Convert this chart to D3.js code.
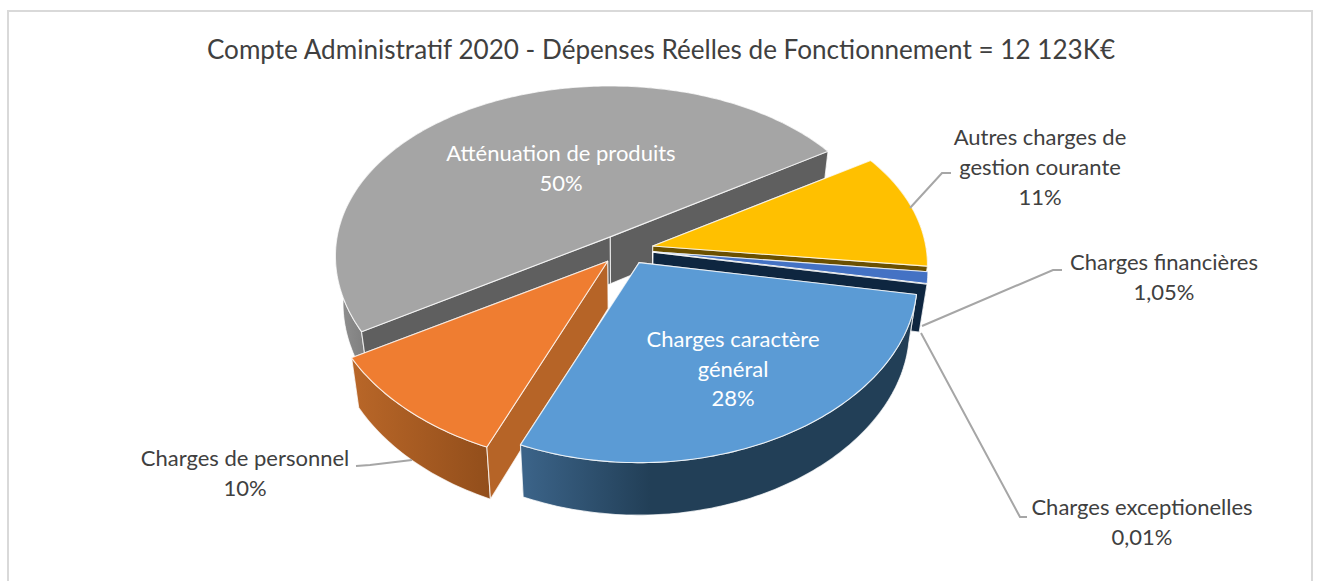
<!DOCTYPE html>
<html><head><meta charset="utf-8">
<script src="https://cdn.jsdelivr.net/npm/d3@7"></script>
<style>html,body{margin:0;background:#fff}svg{display:block}text{font-family:Lato,"Open Sans",sans-serif}</style>
</head><body><div id="c"></div>
<script>
const categories=["Charges caractère général","Charges de personnel","Atténuation de produits","Autres charges de gestion courante","Charges financières","Charges exceptionelles"];
const values=[28,10,50,11,1.05,0.01];
const percentLabels=["28%","10%","50%","11%","1,05%","0,01%"];
const topColors=["#5b9bd5","#ef7d31","#a5a5a5","#ffc000","#4472c4","#0e2640"];
const wallColors=["#223f57","#b66427","#5f5f5f","#6b5000","#0e2640","#0e2640"];
const drawOrder=[2,3,4,5,1,0];
const title="Compte Administratif 2020 - Dépenses Réelles de Fonctionnement = 12 123K€";

const W=1320,H=581;
const cx=625.4,cy=249.5,A=273,B=172,kx=.11,ky=.14,explodeX=.103,explodeY=.0875,bottomScale=.974;
const stretchX=[1.012,1.03,1,1,1,1],stretchY=[1,1.02,1,1,1,1];
const rad=d=>d*Math.PI/180;
const start=rad(100.4);
const pie=d3.pie().value(d=>d).sort(null).startAngle(start).endAngle(start+2*Math.PI);
const arcs=pie(values);
const svg=d3.select("#c").append("svg").attr("width",W).attr("height",H);
const defs=svg.append("defs");
function grad(id,x1,x2,stops){
  const g=defs.append("linearGradient").attr("id",id).attr("gradientUnits","userSpaceOnUse")
    .attr("x1",x1).attr("x2",x2).attr("y1",0).attr("y2",0);
  stops.forEach(s=>g.append("stop").attr("offset",s[0]).attr("stop-color",s[1]));
}
grad("gBlue",525,650,[[0,"#3b6388"],[1,"#223f57"]]);
grad("gOrange",355,490,[[0,"#b86628"],[1,"#924e1b"]]);
grad("gGray",336,365,[[0,"#929292"],[1,"#7f7f7f"]]);
const outerFill=i=>i===0?"url(#gBlue)":i===1?"url(#gOrange)":i===2?"url(#gGray)":wallColors[i];

// frame
svg.append("path").attr("d",`M8,${H}V11H1312V${H}`).attr("fill","none").attr("stroke","#d9d9d9").attr("stroke-width",2);

// angular warp of the perspective view, then projection relative to a slice apex
const warp=t=>t+rad(2.3)*(.5-.5*Math.sin(t))+rad(.9)*Math.max(0,Math.cos(t));
const rel=t0=>{const t=warp(t0),u=Math.sin(t),v=Math.cos(t);return [A*u/(1+kx*v),-B*v/(1+ky*v)];};
const low=p=>[cx+(p[0]-cx)*bottomScale,p[1]+47.5+.025*(p[1]-262)];
const line=d3.line();
const wallStroke={stroke:"#fff","stroke-opacity":.75,"stroke-width":1.1,"stroke-linejoin":"round"};
function styled(sel,o){Object.entries(o).forEach(([k,v])=>sel.attr(k,v));return sel;}

const pieG=svg.append("g");
drawOrder.forEach(i=>{
  const a=arcs[i],mid=(a.startAngle+a.endAngle)/2;
  const apex=[cx+A*explodeX*Math.sin(mid),cy-B*explodeY*Math.cos(mid)];
  const n=Math.max(2,Math.ceil((a.endAngle-a.startAngle)/rad(1)));
  const rim=d3.range(n+1).map(k=>{
    const t=a.startAngle+(a.endAngle-a.startAngle)*k/n,r=rel(t);
    return [apex[0]+r[0]*stretchX[i],apex[1]+r[1]*stretchY[i]];
  });
  const topPoly=[apex].concat(rim);
  const g=pieG.append("g");
  const wall=p=>styled(g.append("path").attr("d",line([apex,p,low(p),low(apex)])+"Z").attr("fill",wallColors[i]),wallStroke);
  const isHidden=p=>d3.polygonContains(topPoly,low([(apex[0]+p[0])/2,(apex[1]+p[1])/2]));
  const ends=[rim[n],rim[0]];
  ends.filter(isHidden).forEach(wall);
  styled(g.append("path").attr("d",line(rim.concat(rim.map(low).reverse()))+"Z").attr("fill",outerFill(i)),wallStroke);
  ends.filter(p=>!isHidden(p)).forEach(wall);
  styled(g.append("path").attr("d",line(topPoly)+"Z").attr("fill",topColors[i]),wallStroke);
});

// leader lines
const leaders=[
 [[910,208],[942,173],[951,173]],
 [[922,326],[1053,270],[1062,270]],
 [[921,333],[1020,517],[1027,517]],
 [[412,460],[370,465],[356,466]]
];
svg.append("g").selectAll("path").data(leaders).join("path")
  .attr("d",d=>line(d)).attr("fill","none").attr("stroke","#a6a6a6").attr("stroke-width",2);

// text
svg.append("text").attr("x",661).attr("y",59).attr("text-anchor","middle").attr("font-size",26.1).attr("fill","#404040").text(title);
const labelLines=[
 {i:0,x:733,ys:[338,368,397],t:["Charges caractère","général"],c:"#fff"},
 {i:2,x:561,ys:[152,182],t:["Atténuation de produits"],c:"#fff"},
 {i:3,x:1040,ys:[136,166,196],t:["Autres charges de","gestion courante"],c:"#404040"},
 {i:4,x:1164,ys:[261,291],t:["Charges financières"],c:"#404040"},
 {i:5,x:1142,ys:[506,536],t:["Charges exceptionelles"],c:"#404040"},
 {i:1,x:245,ys:[457,487],t:["Charges de personnel"],c:"#404040"}
];
const tg=svg.append("g").attr("font-size",22).attr("text-anchor","middle");
labelLines.forEach(l=>{
  l.t.concat(percentLabels[l.i]).forEach((s,k)=>{
    tg.append("text").attr("x",l.x).attr("y",l.ys[k]).attr("fill",l.c).attr("dominant-baseline","central").text(s);
  });
});
</script></body></html>
